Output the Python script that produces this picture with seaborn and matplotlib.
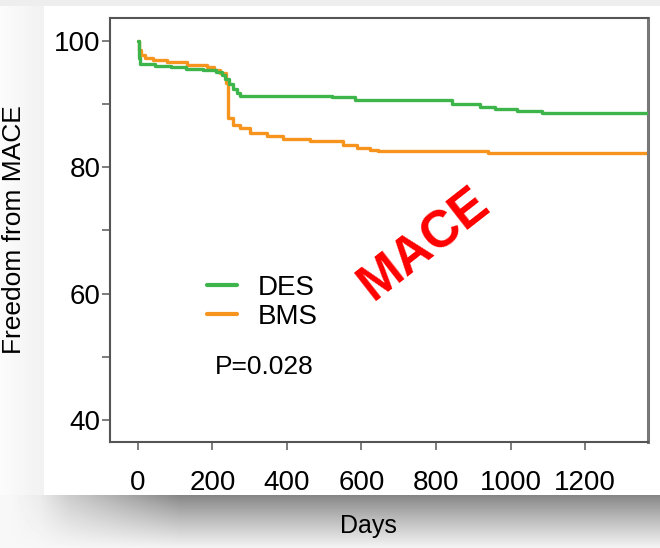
import numpy as np
import pandas as pd
import matplotlib
matplotlib.use("Agg")
import matplotlib.pyplot as plt
from matplotlib.patches import Rectangle
import seaborn as sns

# Kaplan-Meier style step curves (days, % free from MACE)
des_days = [0, 2, 6, 45, 90, 130, 175, 210, 225, 235, 245, 255, 265, 274,
            521, 583, 843, 918, 958, 1017, 1085, 1370]
des_surv = [100, 97.2, 96.3, 96.0, 95.8, 95.6, 95.4, 95.1, 94.6, 93.9, 93.2, 92.4, 91.8, 91.3,
            91.1, 90.7, 90.0, 89.6, 89.2, 88.9, 88.6, 88.6]
bms_days = [0, 2, 8, 20, 40, 78, 131, 185, 205, 220, 236, 242, 255, 274,
            301, 346, 389, 462, 550, 588, 623, 644, 940, 1370]
bms_surv = [100, 98.5, 97.8, 97.3, 97.0, 96.6, 96.2, 95.8, 95.4, 94.9, 93.4, 87.8, 86.7, 86.2,
            85.4, 84.9, 84.4, 84.1, 83.5, 83.1, 82.8, 82.5, 82.2, 82.2]
groups = ["DES", "BMS"]
colors = {"DES": "#3db54a", "BMS": "#f7941e"}
x_ticks = [0, 200, 400, 600, 800, 1000, 1200]
y_ticks = [40, 50, 60, 70, 80, 90, 100]
y_ticklabels = ["40", "", "60", "", "80", "", "100"]
p_text = "P=0.028"

df = pd.concat([
    pd.DataFrame({"days": des_days, "surv": des_surv, "group": "DES"}),
    pd.DataFrame({"days": bms_days, "surv": bms_surv, "group": "BMS"}),
])

sns.set_style("white")
plt.rcParams["font.family"] = ["Liberation Sans", "DejaVu Sans"]
plt.rcParams["text.color"] = "black"
plt.rcParams["axes.labelcolor"] = "black"
plt.rcParams["xtick.labelcolor"] = "black"
plt.rcParams["ytick.labelcolor"] = "black"

W, H = 660, 548
fig = plt.figure(figsize=(W / 100, H / 100), dpi=100)

# card + drop shadow background
bg = fig.add_axes([0, 0, 1, 1], zorder=-10)
bg.axis("off")
yy, xx = np.mgrid[0:H, 0:W].astype(float)
img = np.full((H, W), 0.965)
img[yy < 6] = 0.93
left = (xx < 44) & (yy >= 6)
img[left] = 0.985 - 0.04 * (xx[left] / 44)
sh = yy >= 495
t = (yy[sh] - 495) / 53
fade = np.clip((xx[sh] - 40) / 140, 0, 1)
val = 0.52 + 0.44 * t ** 0.9
img[sh] = fade * val + (1 - fade) * (0.97 - 0.1 * (1 - t) * np.clip((xx[sh] - 10) / 60, 0, 1))
bg.imshow(img, cmap="gray", vmin=0, vmax=1, aspect="auto", extent=[0, 1, 0, 1])
bg.set_xlim(0, 1); bg.set_ylim(0, 1)
bg.add_patch(Rectangle((44 / W, 1 - 495 / H), 1, (495 - 6) / H, transform=bg.transAxes,
                       facecolor="white", edgecolor="none"))

ax = fig.add_axes([110 / W, 1 - 442 / H, (648 - 110) / W, (442 - 18) / H])
sns.lineplot(data=df, x="days", y="surv", hue="group", hue_order=groups, palette=colors,
             estimator=None, errorbar=None, drawstyle="steps-post", linewidth=2.4, ax=ax)
ax.lines[0].set_zorder(3)  # DES drawn over BMS

ax.set_xlim(-75, 1369)
ax.set_ylim(36.55, 103.6)
ax.set_xticks(x_ticks)
ax.set_yticks(y_ticks)
ax.set_yticklabels(y_ticklabels)
ax.tick_params(axis="both", which="major", direction="out", length=6, width=1.2,
               color="#666666", labelsize=20, bottom=True, left=True)
ax.tick_params(axis="x", pad=14)
ax.tick_params(axis="y", pad=1)
for s in ax.spines.values():
    s.set_color("#555555")
    s.set_linewidth(1.5)
ax.spines["right"].set_color("#777777")
ax.spines["right"].set_linewidth(2.2)

ax.set_xlabel("Days", fontsize=18)
ax.xaxis.set_label_coords(0.48, -0.17)
ax.set_ylabel("Freedom from MACE", fontsize=19, labelpad=20)

leg = ax.legend(loc="upper left", bbox_to_anchor=(0.18, 0.395), borderaxespad=0, borderpad=0,
                frameon=False, fontsize=20, handlelength=1.1, handletextpad=0.75,
                labelspacing=0.12)
for line in leg.get_lines():
    line.set_linewidth(3)

ax.text(0.195, 0.177, p_text, transform=ax.transAxes, fontsize=19, ha="left", va="center")
ax.text(0.585, 0.465, "MACE", transform=ax.transAxes, fontsize=37, fontweight="bold",
        color="#ff0000", rotation=38, ha="center", va="center")

fig.savefig("out.png", dpi=100)
